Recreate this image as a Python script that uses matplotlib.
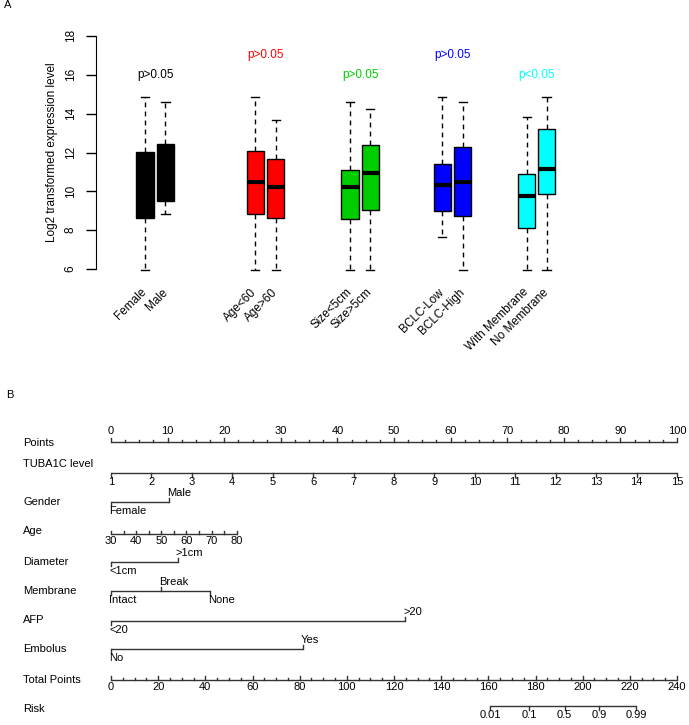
import matplotlib.pyplot as plt
import matplotlib.transforms as mtransforms
import numpy as np

plt.rcParams['font.family'] = ['Liberation Sans', 'DejaVu Sans']

# ---- panel A: boxplots ----
group_labels = ["Female", "Male", "Age<60", "Age>60", "Size<5cm", "Size>5cm",
                "BCLC-Low", "BCLC-High", "With Membrane", "No Membrane"]
whisker_low = [5.97, 8.86, 5.97, 5.97, 5.97, 5.97, 7.66, 5.97, 5.97, 5.97]
q1 = [8.63, 9.50, 8.84, 8.63, 8.57, 9.05, 9.00, 8.72, 8.12, 9.84]
medians = [10.40, 10.90, 10.46, 10.20, 10.20, 10.94, 10.32, 10.46, 9.75, 11.16]
q3 = [12.02, 12.42, 12.09, 11.68, 11.10, 12.37, 11.40, 12.30, 10.89, 13.20]
whisker_high = [14.87, 14.60, 14.87, 13.67, 14.60, 14.24, 14.87, 14.60, 13.81, 14.87]
pair_colors = ["black", "red", "#00cd00", "blue", "cyan"]
p_texts = ["p>0.05", "p>0.05", "p>0.05", "p>0.05", "p<0.05"]
p_heights = [16, 17, 16, 17, 16]

# ---- panel B: nomogram ----
points_ticks = list(range(0, 101, 10))
tuba_levels = list(range(1, 16))
tuba_range = [1, 15]
tuba_points = [0, 100]
gender_labels = ["Female", "Male"]
gender_points = [0, 10.3]
age_ticks = list(range(30, 81, 5))
age_labels = [30, 40, 50, 60, 70, 80]
age_range = [30, 80]
age_points = [0, 22.2]
diameter_labels = ["<1cm", ">1cm"]
diameter_points = [0, 11.8]
membrane_labels = ["Intact", "Break", "None"]
membrane_points = [0, 8.9, 17.5]
afp_labels = ["<20", ">20"]
afp_points = [0, 52.0]
embolus_labels = ["No", "Yes"]
embolus_points = [0, 33.9]
total_ticks = list(range(0, 241, 20))
total_max = 240
risk_labels = ["0.01", "0.1", "0.5", "0.9", "0.99"]
risk_total = [160.7, 177.3, 192.3, 207.0, 222.6]

W, H = 689, 725
fig = plt.figure(figsize=(W / 100, H / 100), dpi=100)

# ---------------- panel A ----------------
box_pos = [1, 2, 6.37, 7.39, 11.0, 11.98, 15.49, 16.51, 19.63, 20.6]
ax1 = fig.add_axes([96 / W, 1 - 285 / H, 520.5 / W, 265 / H])
stats = []
for i in range(len(group_labels)):
    stats.append(dict(whislo=whisker_low[i], q1=q1[i], med=medians[i],
                      q3=q3[i], whishi=whisker_high[i], label=group_labels[i]))
bp = ax1.bxp(stats, positions=box_pos, widths=0.83, patch_artist=True,
             showfliers=False, capwidths=0.42,
             boxprops=dict(edgecolor='black', linewidth=1),
             medianprops=dict(color='black', linewidth=3, solid_capstyle='butt'),
             whiskerprops=dict(color='black', linewidth=1, linestyle=(0, (3.5, 3))),
             capprops=dict(color='black', linewidth=1))
for i, box in enumerate(bp['boxes']):
    box.set_facecolor(pair_colors[i // 2])

for k in range(len(pair_colors)):
    xm = (box_pos[2 * k] + box_pos[2 * k + 1]) / 2
    ax1.text(xm, p_heights[k], p_texts[k], color=pair_colors[k],
             ha='center', va='center', fontsize=8.5)

ax1.set_xlim(-1.39, 24)
ax1.set_ylim(5.18, 18.82)
for s in ['top', 'right', 'bottom']:
    ax1.spines[s].set_visible(False)
ax1.spines['left'].set_bounds(6, 18)
ax1.set_yticks(range(6, 19, 2))
ax1.tick_params(axis='y', length=7, width=1, labelsize=8.5, pad=7)
for lab in ax1.get_yticklabels():
    lab.set_rotation(90)
    lab.set_va('center')
ax1.set_xticks(box_pos)
ax1.set_xticklabels(group_labels, rotation=45, ha='right', va='center',
                    rotation_mode='anchor', fontsize=8.5)
ax1.tick_params(axis='x', length=0, pad=4)
ax1.set_ylabel("Log2 transformed expression level", fontsize=8.5)
ax1.yaxis.set_label_coords(-0.073, 0.5)

fig.text(4 / W, 1 - 5 / H, "A", fontsize=8, va='center', ha='left')
fig.text(6 / W, 1 - 395 / H, "B", fontsize=8, va='center', ha='left')

# ---------------- panel B ----------------
px_per_pt = (677 - 111) / 100
ax2 = fig.add_axes([0, 0, 1, 330 / H])
ax2.set_xlim(-111 / px_per_pt, (W - 111) / px_per_pt)
ax2.set_ylim(H, H - 330)
ax2.axis('off')
lab_trans = mtransforms.blended_transform_factory(ax2.transAxes, ax2.transData)
lc = '#333333'
fs = 8
dx = 2 / px_per_pt

rows = ["Points", "TUBA1C level", "Gender", "Age", "Diameter", "Membrane",
        "AFP", "Embolus", "Total Points", "Risk"]
row_y = [442, 472.5, 501.5, 534, 562, 591, 620.5, 649, 680, 706]
label_y = [443, 464, 502, 531, 562, 591, 620, 649, 680, 709]
for name, y in zip(rows, label_y):
    ax2.text(23 / W, y, name, transform=lab_trans, fontsize=fs, va='center', ha='left')


def hline(x0, x1, y):
    ax2.plot([x0, x1], [y, y], color=lc, lw=1, solid_capstyle='butt')


def tick(x, y, length):
    ax2.plot([x, x], [y, y + length], color=lc, lw=1)


# Points
y = row_y[0]
hline(0, 100, y)
for v in np.arange(0, 100.01, 2.5):
    tick(v, y, -4 if v % 10 == 0 else -2.5)
for v in points_ticks:
    ax2.text(v, y - 6, str(v), ha='center', va='bottom', fontsize=fs)

# TUBA1C level
y = row_y[1]
tp = np.interp(tuba_levels, tuba_range, tuba_points)
hline(tp[0], tp[-1], y)
for lv, v in zip(tuba_levels, tp):
    tick(v, y, 4)
    ax2.text(v, y + 4, str(lv), ha='center', va='top', fontsize=fs)

# Age
y = row_y[3]
ap = np.interp(age_ticks, age_range, age_points)
hline(ap[0], ap[-1], y)
for v in ap:
    tick(v, y, -3.5)
for lv in age_labels:
    ax2.text(np.interp(lv, age_range, age_points), y + 2, str(lv),
             ha='center', va='top', fontsize=fs)

# categorical rows
cats = [(2, gender_labels, gender_points), (4, diameter_labels, diameter_points),
        (5, membrane_labels, membrane_points), (6, afp_labels, afp_points),
        (7, embolus_labels, embolus_points)]
for r, labs, pts in cats:
    y = row_y[r]
    hline(min(pts), max(pts), y)
    for j, (lb, v) in enumerate(zip(labs, pts)):
        if j % 2 == 0:
            tick(v, y, 4)
            ax2.text(v - dx, y + 4, lb, ha='left', va='top', fontsize=fs)
        else:
            tick(v, y, -4)
            ax2.text(v - dx, y - 4, lb, ha='left', va='bottom', fontsize=fs)

# Total Points
y = row_y[8]
scale = 100 / total_max
hline(0, total_max * scale, y)
for v in range(0, total_max + 1, 5):
    tick(v * scale, y, -4 if v % 20 == 0 else -2.5)
for v in total_ticks:
    ax2.text(v * scale, y + 2, str(v), ha='center', va='top', fontsize=fs)

# Risk
y = row_y[9]
rp = [v * scale for v in risk_total]
hline(rp[0], rp[-1], y)
for lb, v in zip(risk_labels, rp):
    tick(v, y, 4)
    ax2.text(v, y + 4, lb, ha='center', va='top', fontsize=fs)

fig.savefig("out.png", dpi=100)
